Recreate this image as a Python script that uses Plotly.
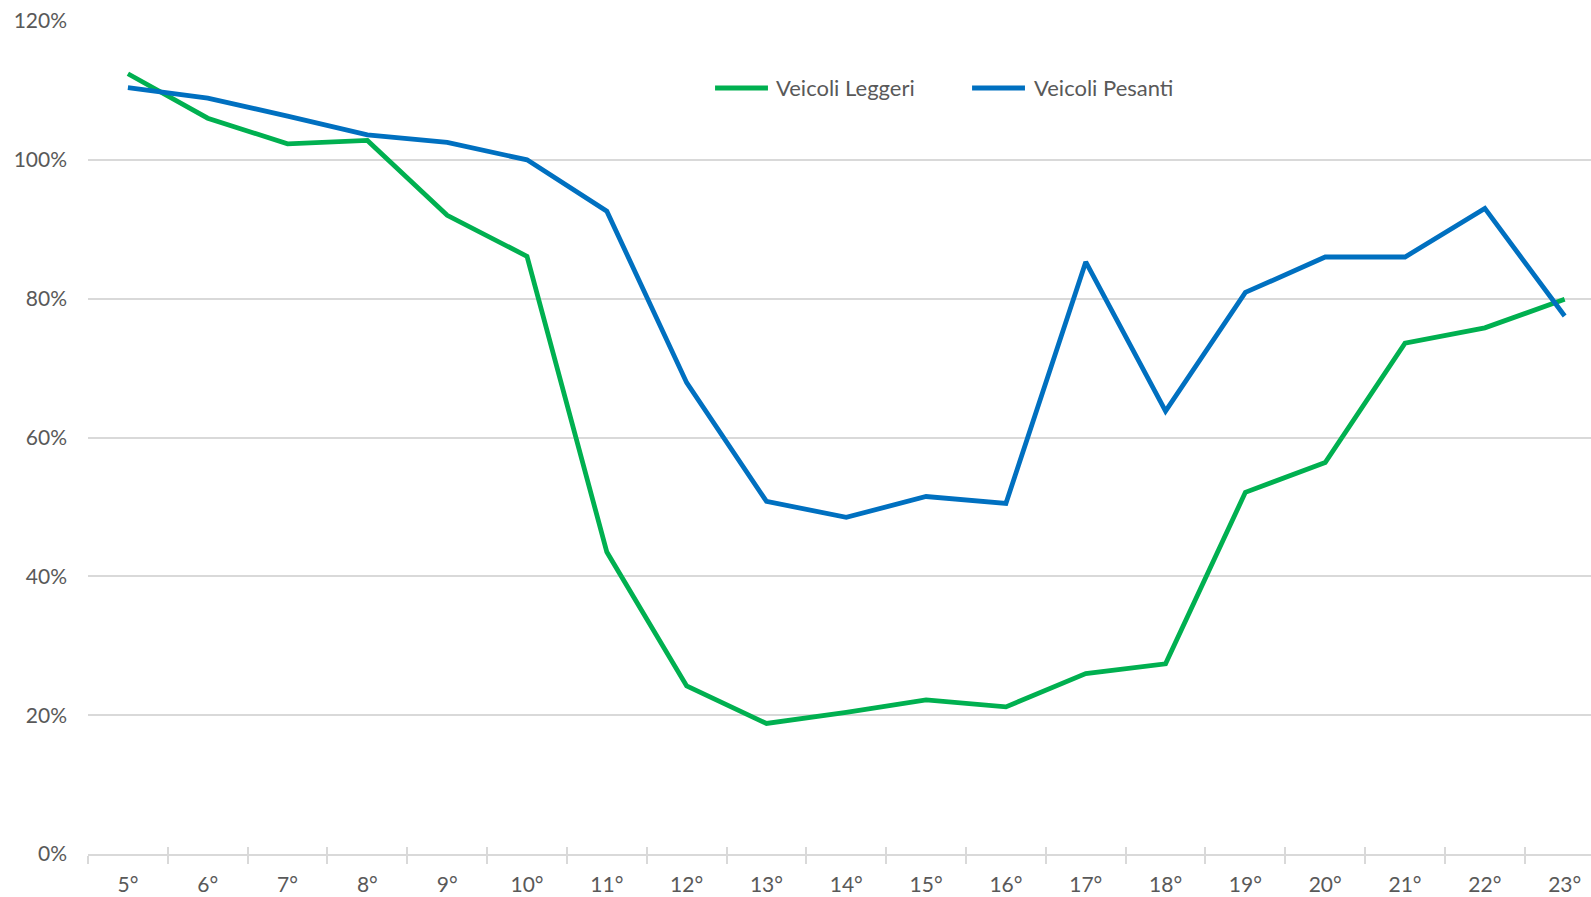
import plotly.graph_objects as go

categories = ["5°", "6°", "7°", "8°", "9°", "10°", "11°", "12°", "13°", "14°",
              "15°", "16°", "17°", "18°", "19°", "20°", "21°", "22°", "23°"]
leggeri = [112.4, 106.0, 102.3, 102.8, 92.0, 86.1, 43.5, 24.2, 18.8, 20.4,
           22.2, 21.2, 26.0, 27.4, 52.1, 56.4, 73.6, 75.8, 79.9]
pesanti = [110.4, 108.9, 106.3, 103.6, 102.5, 100.0, 92.6, 67.9, 50.8, 48.5,
           51.5, 50.5, 85.3, 63.8, 80.9, 86.0, 86.0, 93.0, 77.5]
series_names = ["Veicoli Leggeri", "Veicoli Pesanti"]
series_colors = ["#00B050", "#0070C0"]

FONT = "Lato, 'Open Sans', sans-serif"
TXT = "#595959"
GRID = "#D9D9D9"
FS = 21

fig = go.Figure()
for name, vals, col in zip(series_names, [leggeri, pesanti], series_colors):
    fig.add_trace(go.Scatter(x=categories, y=vals, mode="lines", name=name,
                             line=dict(color=col, width=4.8), showlegend=False))
# helper trace for the upper half of the crossing tick marks
fig.add_trace(go.Scatter(x=categories, y=[None] * len(categories), xaxis="x2",
                         showlegend=False, hoverinfo="skip"))

# legend drawn as line samples + text (Excel style, long line samples)
leg_line_x = [(0.4172, 0.4524), (0.5882, 0.6234)]
leg_text_x = [0.4562, 0.6278]
leg_y = 0.9196
for (x0, x1), tx, name, col in zip(leg_line_x, leg_text_x, series_names, series_colors):
    fig.add_shape(type="line", xref="paper", yref="paper", x0=x0, x1=x1, y0=leg_y, y1=leg_y,
                  line=dict(color=col, width=5))
    fig.add_annotation(xref="paper", yref="paper", x=tx, y=leg_y, text=name, showarrow=False,
                       xanchor="left", yanchor="middle", font=dict(size=22, color=TXT))

xr = [-0.5, 18.33]
fig.update_layout(
    width=1591, height=897,
    margin=dict(l=88, r=0, t=21, b=43),
    paper_bgcolor="white", plot_bgcolor="white",
    font=dict(family=FONT, size=FS, color=TXT),
    showlegend=False,
    xaxis=dict(type="category", range=xr, tickson="boundaries", ticks="outside",
               ticklen=8, tickwidth=2, tickcolor=GRID, showline=True, linecolor=GRID,
               linewidth=2, showgrid=False, ticklabelstandoff=11,
               tickfont=dict(size=FS, color=TXT)),
    xaxis2=dict(type="category", range=xr, overlaying="x", side="bottom", tickson="boundaries",
                ticks="inside", ticklen=7, tickwidth=2, tickcolor=GRID, showticklabels=False,
                showgrid=False, showline=False),
    yaxis=dict(range=[0, 120], dtick=20, ticksuffix="%", showgrid=True, gridcolor=GRID,
               gridwidth=1.5, zeroline=False, ticks="", ticklabelstandoff=20,
               tickfont=dict(size=FS, color=TXT)),
)

fig.write_html("out.html", config={"displayModeBar": False})
with open("out.html", encoding="utf-8") as f:
    html = f.read()
html = html.replace("<head>", "<head><style>html,body{margin:0;padding:0;overflow:hidden;}</style>", 1)
with open("out.html", "w", encoding="utf-8") as f:
    f.write(html)
